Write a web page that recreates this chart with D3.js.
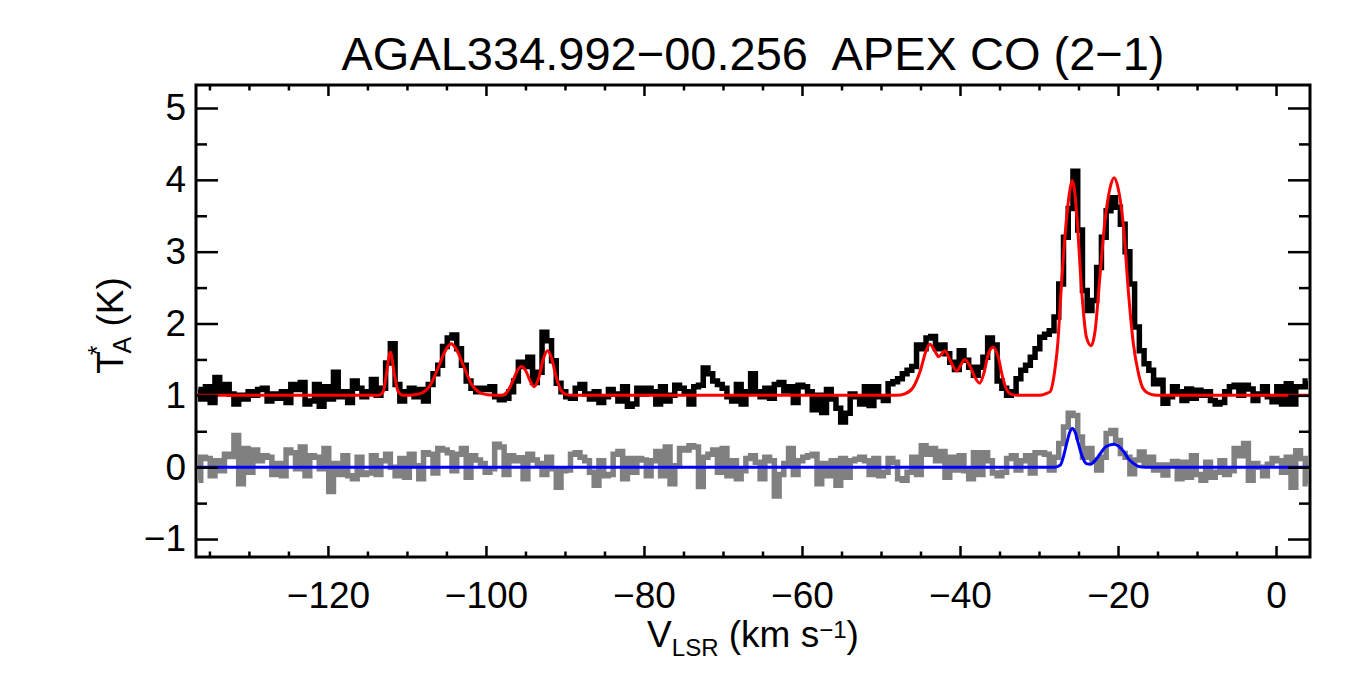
<!DOCTYPE html>
<html>
  <head>
    <meta charset="utf-8">
    <title>AGAL334.992-00.256 APEX CO (2-1)</title>
    <script src="https://cdn.jsdelivr.net/npm/d3@7"></script>
    <style>
      body { margin: 0; background: #fff; }
      svg { display: block; font-family: "Liberation Sans", Arial, sans-serif; }
      .axis line { stroke: #000; stroke-width: 2.5; }
    </style>
  </head>

  <body>
    <svg id="chart" width="1350" height="675"></svg>

    <script>
      // channel grid, km/s
      const vStart = -136.4;
      const vStep = 0.6;

      // CO (2-1) spectrum, shown with +1 K offset
      const coSpectrum = [
        1.08,0.95,1.12,0.90,1.25,1.05,1.15,1.02,0.88,1.00, 0.95,1.05,1.00,1.08,1.10,0.92,1.02,0.96,1.05,0.90,
        1.15,1.08,1.18,0.88,0.92,1.15,0.85,1.12,0.95,1.32, 0.98,1.05,0.90,1.20,1.10,0.98,1.05,1.22,1.00,1.10,
        1.45,1.72,1.15,0.92,1.05,1.10,0.98,
        1.08,0.92,1.15,1.30,1.42,1.68,1.80,1.84,1.65,1.42, 1.20,1.10,1.05,1.10,1.08,1.12,0.98,0.94,0.96,1.05,
        1.20,1.46,1.40,1.53,1.18,1.32,1.88,1.76,1.48,1.17, 1.05,0.98,0.96,1.10,1.15,1.02,0.95,1.05,0.90,0.98,
        1.08,1.02,0.92,1.12,0.85,0.88,1.10,1.02,
        1.10,1.05,0.88,1.12,0.92,1.00,1.14,1.10,1.05,0.88, 1.12,1.14,1.38,1.30,1.20,1.15,1.10,0.98,0.92,1.15,
        0.88,1.05,1.30,1.05,0.98,1.10,0.96,1.15,1.18,1.06, 1.12,0.90,1.14,1.12,1.05,0.80,1.00,0.76,1.08,0.95,
        0.82,0.63,0.75,1.02,0.98,0.88,1.12,
        0.86,1.12,0.98,0.93,1.16,1.19,1.23,1.30,1.35,1.40, 1.70,1.65,1.80,1.82,1.65,1.70,1.58,1.46,1.36,1.62,
        1.49,1.39,1.28,1.39,1.53,1.80,1.70,1.20,1.10,1.00, 1.05,1.23,1.35,1.42,1.53,1.65,1.81,1.85,
        1.90,2.09,2.55,3.20,3.60,4.12,3.30,2.46,2.18,2.32, 2.78,3.20,3.57,3.75,3.62,3.38,3.00,2.55,1.95,1.62,
        1.44,1.35,1.16,1.21,0.89,0.98,1.12,
        1.05,0.93,1.09,0.96,1.07,1.00,1.05,0.93,0.88,0.90, 1.05,1.12,1.14,1.00,1.14,1.09,0.93,1.02,1.12,0.98,
        0.91,1.12,0.88,1.16,0.88,1.12,1.12,1.20
      ];

      // second (grey) spectrum, no offset
      const greySpectrum = [
        -0.18,0.14,0.12,-0.12,0.09,-0.05,0.18,0.15,0.44,-0.23, 0.26,-0.07,0.24,0.09,0.16,0.14,-0.10,0.05,-0.12,0.24,
        0.20,-0.02,0.28,-0.12,0.16,0.14,-0.02,0.26,-0.34,0.05, -0.10,0.16,-0.12,-0.16,0.14,-0.10,-0.08,0.16,-0.10,0.09,
        0.18,0.00,-0.12,0.12,-0.14,0.18,0.02,
        -0.16,0.20,0.18,-0.08,0.26,0.24,0.20,-0.05,0.18,0.26, -0.14,0.16,0.10,0.05,-0.07,-0.02,0.32,0.28,-0.10,0.16,
        0.09,0.13,-0.16,0.18,0.10,0.05,-0.10,0.14,-0.02,-0.28, -0.05,-0.04,0.18,0.20,0.14,0.09,-0.07,-0.25,0.09,-0.12,
        -0.10,0.18,0.22,-0.16,0.12,-0.07,0.12,0.10,
        -0.12,0.09,0.22,-0.12,0.28,-0.23,0.02,0.26,0.24,0.30, 0.28,-0.27,0.14,0.18,0.24,-0.07,0.26,-0.12,0.09,-0.16,
        -0.05,0.12,0.16,0.07,-0.16,0.14,0.09,-0.40,-0.10,0.05, 0.26,-0.10,0.09,0.14,0.16,0.18,-0.23,0.05,-0.12,0.09,
        -0.25,0.12,-0.14,0.09,0.11,0.14,0.09,
        -0.10,0.12,-0.12,-0.07,0.12,0.07,-0.16,-0.18,-0.07,0.14, -0.10,0.30,0.18,0.26,0.09,0.22,-0.14,0.14,-0.04,0.16,
        -0.05,-0.16,0.20,-0.10,0.20,0.09,-0.08,-0.12,-0.07,0.12, 0.16,-0.04,0.09,0.16,-0.08,0.20,0.20,0.18,
        -0.04,0.14,0.33,0.56,0.75,0.72,0.42,0.14,0.26,0.10, -0.04,0.14,0.47,0.51,0.37,0.19,0.14,-0.09,0.10,0.21,
        0.05,0.14,-0.04,0.03,-0.11,0.03,0.08,
        -0.16,0.07,-0.14,0.16,-0.10,-0.18,0.07,-0.14,-0.07,0.09, -0.10,-0.05,0.26,0.16,0.33,-0.18,0.05,0.00,-0.12,0.04,
        0.12,0.09,-0.07,0.14,-0.28,0.23,0.12,-0.23
      ];

      // red gaussian fit to CO, [v, T]
      const coFit = [
        [-136.7,1.0],[-113.6,1.0],[-113.0,1.05],[-112.6,1.3],[-112.1,1.6],[-111.6,1.3],[-111.1,1.05],[-110.5,1.0],
        [-109.0,1.01],[-108.0,1.04],[-107.0,1.15],[-106.0,1.40],[-105.0,1.65],[-104.4,1.72],[-103.8,1.65],
        [-102.8,1.40],[-101.8,1.15],[-100.8,1.04],[-99.8,1.01],
        [-98.0,1.0],[-97.3,1.05],[-96.6,1.2],[-96.0,1.35],[-95.5,1.40],[-95.0,1.35],[-94.4,1.2],[-93.9,1.12],
        [-93.3,1.25],[-92.7,1.52],[-92.2,1.62],[-91.7,1.52],[-91.1,1.25],[-90.5,1.07],[-89.8,1.01],[-89.0,1.0],
        [-48.0,1.0],[-47.0,1.02],[-46.0,1.10],[-45.0,1.35],[-44.3,1.62],[-43.8,1.71],[-43.2,1.62],[-42.7,1.54],
        [-42.3,1.58],[-41.9,1.62],[-41.4,1.52],[-40.4,1.34],[-39.9,1.42],[-39.4,1.50],[-38.8,1.42],[-38.1,1.25],
        [-37.5,1.17],[-37.0,1.30],[-36.4,1.58],[-35.8,1.67],[-35.2,1.55],[-34.6,1.25],[-34.0,1.06],[-33.4,1.01],
        [-32.5,1.0],[-30.0,1.0],[-29.0,1.03],[-28.6,1.05],[-28.0,1.35],[-27.6,1.75],[-27.3,2.30],[-26.9,2.95],
        [-26.5,3.48],[-26.1,3.85],[-25.8,3.99],[-25.5,3.85],[-25.2,3.48],[-24.6,2.46],[-24.0,1.81],[-23.4,1.69],
        [-22.9,1.90],[-22.3,2.64],[-21.65,3.43],[-21.0,3.89],[-20.5,4.03],[-20.0,3.89],[-19.3,3.34],[-18.7,2.46],
        [-18.06,1.72],[-17.4,1.30],[-16.8,1.09],[-16.0,1.02],[-15.0,1.0],[4.3,1.0]
      ];

      // blue gaussian fit to the grey spectrum, [v, T]
      const greyFit = [
        [-136.7,0],[-28.0,0],[-27.3,0.03],[-26.9,0.15],[-26.5,0.33],[-26.1,0.49],[-25.8,0.54],[-25.4,0.48],
        [-25.0,0.32],[-24.5,0.14],[-24.0,0.05],[-23.5,0.04],[-23.0,0.08],[-22.3,0.18],[-21.6,0.28],[-21.0,0.31],
        [-20.5,0.32],[-20.0,0.30],[-19.3,0.22],[-18.7,0.12],[-18.0,0.05],[-17.4,0.01],[-16.5,0],[4.3,0]
      ];

      // ticks
      const xMajorTicks = [-120, -100, -80, -60, -40, -20, 0];
      const xMinorTicks = [-135, -130, -125, -115, -110, -105, -95, -90, -85, -75, -70, -65,
                           -55, -50, -45, -35, -30, -25, -15, -10, -5];
      const yMajorTicks = [-1, 0, 1, 2, 3, 4, 5];
      const yMinorTicks = [-0.5, 0.5, 1.5, 2.5, 3.5, 4.5];

      // layout
      const width = 1350, height = 675;
      const margin = {top: 85, right: 40, bottom: 118, left: 196};

      const svg = d3.select("#chart");

      const x = d3.scaleLinear()
          .domain([-136.7, 4.3])
          .range([margin.left, width - margin.right]);

      const y = d3.scaleLinear()
          .domain([-1.25, 5.32])
          .range([height - margin.bottom, margin.top]);

      svg.append("defs").append("clipPath")
          .attr("id", "plotClip")
        .append("rect")
          .attr("x", margin.left)
          .attr("y", margin.top)
          .attr("width", width - margin.left - margin.right)
          .attr("height", height - margin.top - margin.bottom);

      const plot = svg.append("g").attr("clip-path", "url(#plotClip)");

      const toChannels = arr => arr.map((t, i) => ({v: vStart + i * vStep, t: t}));

      const stepLine = d3.line()
          .x(d => x(d.v))
          .y(d => y(d.t))
          .curve(d3.curveStep);

      const fitLine = d3.line()
          .x(d => x(d[0]))
          .y(d => y(d[1]))
          .curve(d3.curveMonotoneX);

      plot.append("path")
          .attr("d", stepLine(toChannels(coSpectrum)))
          .attr("fill", "none")
          .attr("stroke", "#000")
          .attr("stroke-width", 5.5);

      plot.append("path")
          .attr("d", stepLine(toChannels(greySpectrum)))
          .attr("fill", "none")
          .attr("stroke", "#808080")
          .attr("stroke-width", 5.5);

      plot.append("path")
          .attr("d", fitLine(coFit))
          .attr("fill", "none")
          .attr("stroke", "#ff0000")
          .attr("stroke-width", 3);

      plot.append("path")
          .attr("d", fitLine(greyFit))
          .attr("fill", "none")
          .attr("stroke", "#0000ff")
          .attr("stroke-width", 3);

      // axes, ticks pointing inward
      function addAxis(axis, tx, ty) {
        const g = svg.append("g")
            .attr("class", "axis")
            .attr("transform", "translate(" + tx + "," + ty + ")")
            .call(axis);
        g.select(".domain").remove();
        g.attr("font-size", 37).attr("font-family", "Liberation Sans, Arial, sans-serif");
        g.selectAll("text").attr("fill", "#000");
        return g;
      }

      const bottom = height - margin.bottom;
      const right = width - margin.right;
      const intFormat = d3.format("d");

      addAxis(d3.axisBottom(x).tickValues(xMajorTicks).tickSize(-11).tickPadding(25), 0, bottom);
      addAxis(d3.axisBottom(x).tickValues(xMinorTicks).tickSize(-5.5).tickFormat(""), 0, bottom);
      addAxis(d3.axisTop(x).tickValues(xMajorTicks).tickSize(-11).tickFormat(""), 0, margin.top);
      addAxis(d3.axisTop(x).tickValues(xMinorTicks).tickSize(-5.5).tickFormat(""), 0, margin.top);

      addAxis(d3.axisLeft(y).tickValues(yMajorTicks).tickSize(-22).tickPadding(10).tickFormat(intFormat), margin.left, 0);
      addAxis(d3.axisLeft(y).tickValues(yMinorTicks).tickSize(-11).tickFormat(""), margin.left, 0);
      addAxis(d3.axisRight(y).tickValues(yMajorTicks).tickSize(-22).tickFormat(""), right, 0);
      addAxis(d3.axisRight(y).tickValues(yMinorTicks).tickSize(-11).tickFormat(""), right, 0);

      // frame
      svg.append("rect")
          .attr("x", margin.left)
          .attr("y", margin.top)
          .attr("width", right - margin.left)
          .attr("height", bottom - margin.top)
          .attr("fill", "none")
          .attr("stroke", "#000")
          .attr("stroke-width", 3);

      // title
      svg.append("text")
          .attr("x", (margin.left + right) / 2)
          .attr("y", 70)
          .attr("text-anchor", "middle")
          .attr("font-size", 47)
          .style("white-space", "pre")
          .text("AGAL334.992\u221200.256  APEX CO (2\u22121)");

      // x label: V_LSR (km s^-1)
      const xLabel = svg.append("text")
          .attr("x", (margin.left + right) / 2)
          .attr("y", 647)
          .attr("text-anchor", "middle")
          .attr("font-size", 37)
          .style("white-space", "pre");
      xLabel.append("tspan").text("V");
      xLabel.append("tspan").attr("font-size", 24).attr("dy", 9).text("LSR");
      xLabel.append("tspan").attr("dy", -9).text(" (km s");
      xLabel.append("tspan").attr("font-size", 24).attr("dy", -9).text("\u22121");
      xLabel.append("tspan").attr("dy", 9).text(")");

      // y label: T*_A (K)
      const yLabel = svg.append("text")
          .attr("transform", "translate(123," + (y(2.0) + 2) + ") rotate(-90)")
          .attr("text-anchor", "middle")
          .attr("font-size", 37)
          .style("white-space", "pre");
      yLabel.append("tspan").text("T");
      yLabel.append("tspan").attr("font-size", 25).attr("dy", -17).attr("dx", -4).text("*");
      yLabel.append("tspan").attr("font-size", 25).attr("dy", 25).attr("dx", -8).text("A");
      yLabel.append("tspan").attr("dy", -8).text(" (K)");
    </script>
  </body>
</html>
